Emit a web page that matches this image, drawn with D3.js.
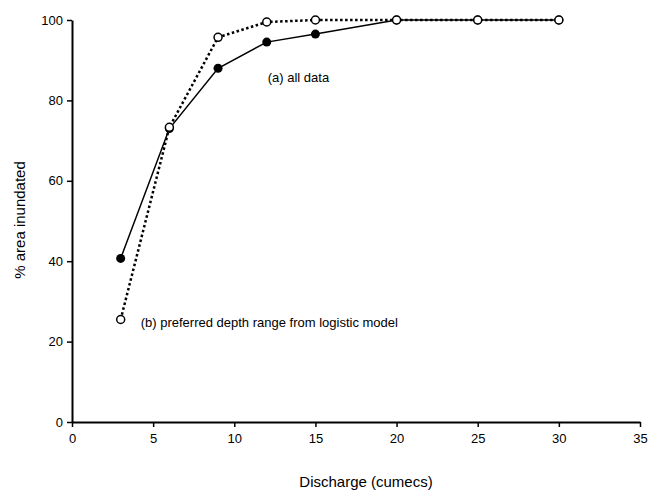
<!DOCTYPE html>
<head>
    <meta charset="utf-8">
    <script src="https://d3js.org/d3.v7.min.js"></script>
    <style>
        body { margin: 0; background: #fff; }
        text { font-family: Arial, "Liberation Sans", sans-serif; fill: #000; }
    </style>
</head>
<body>
    <div id="container"></div>
    <script>
        //------------------------DATA------------------------//
        var discharge = [3, 6, 9, 12, 15, 20, 25, 30];
        var allData = [40.7, 73.0, 88.0, 94.5, 96.5, 100, 100, 100];
        var preferred = [25.5, 73.3, 95.7, 99.5, 100, 100, 100, 100];
        var xTicks = [0, 5, 10, 15, 20, 25, 30, 35];
        var yTicks = [0, 20, 40, 60, 80, 100];

        //------------------------SVG------------------------//
        var W = 649, H = 492;
        var margin = { top: 20, right: 9, bottom: 70, left: 72 };
        var width = W - margin.left - margin.right,
            height = H - margin.top - margin.bottom;

        var svg = d3.select("#container").append("svg")
            .attr("width", W).attr("height", H);
        var g = svg.append("g")
            .attr("transform", "translate(" + margin.left + "," + margin.top + ")");

        var x = d3.scaleLinear().domain([0, 35]).range([0, width]);
        var y = d3.scaleLinear().domain([0, 100]).range([height, 0]);

        //------------------------AXES------------------------//
        var xAxis = g.append("g")
            .attr("transform", "translate(0," + height + ")")
            .call(d3.axisBottom(x).tickValues(xTicks).tickSize(5).tickPadding(7).tickSizeOuter(0));
        var yAxis = g.append("g")
            .call(d3.axisLeft(y).tickValues(yTicks).tickSize(5).tickPadding(4).tickSizeOuter(0));

        [xAxis, yAxis].forEach(function (a) {
            a.select(".domain").attr("stroke", "#000").attr("stroke-width", 2);
            a.selectAll(".tick line").attr("stroke", "#000").attr("stroke-width", 1.5);
            a.selectAll(".tick text").style("font-size", "13px").attr("fill", "#000");
        });

        g.append("text")
            .attr("x", width / 2 + 10)
            .attr("y", height + 65)
            .attr("text-anchor", "middle")
            .style("font-size", "15px")
            .text("Discharge (cumecs)");

        g.append("text")
            .attr("transform", "translate(" + (-47) + "," + (height / 2 - 1) + ") rotate(-90)")
            .attr("text-anchor", "middle")
            .style("font-size", "15px")
            .text("% area inundated");

        //------------------------LINES------------------------//
        var line = d3.line()
            .x(function (d) { return x(d[0]); })
            .y(function (d) { return y(d[1]); });

        var ptsA = discharge.map(function (d, i) { return [d, allData[i]]; });
        var ptsB = discharge.map(function (d, i) { return [d, preferred[i]]; });

        g.append("path").datum(ptsA)
            .attr("d", line)
            .attr("fill", "none")
            .attr("stroke", "#000")
            .attr("stroke-width", 1.5);

        g.append("path").datum(ptsB)
            .attr("d", line)
            .attr("fill", "none")
            .attr("stroke", "#000")
            .attr("stroke-width", 2.5)
            .attr("stroke-dasharray", "2.5,2.5");

        g.selectAll(".ptA").data(ptsA).enter().append("circle")
            .attr("class", "ptA")
            .attr("cx", function (d) { return x(d[0]); })
            .attr("cy", function (d) { return y(d[1]); })
            .attr("r", 4.5)
            .attr("fill", "#000");

        g.selectAll(".ptB").data(ptsB).enter().append("circle")
            .attr("class", "ptB")
            .attr("cx", function (d) { return x(d[0]); })
            .attr("cy", function (d) { return y(d[1]); })
            .attr("r", 4)
            .attr("fill", "#fff")
            .attr("stroke", "#000")
            .attr("stroke-width", 1.5);

        //------------------------LABELS------------------------//
        g.append("text")
            .attr("x", x(12) + 1)
            .attr("y", y(85) + 2)
            .style("font-size", "13px")
            .text("(a) all data");

        g.append("text")
            .attr("x", x(3) + 20)
            .attr("y", y(25) + 5)
            .style("font-size", "13px")
            .text("(b) preferred depth range from logistic model");
    </script>
</body>
